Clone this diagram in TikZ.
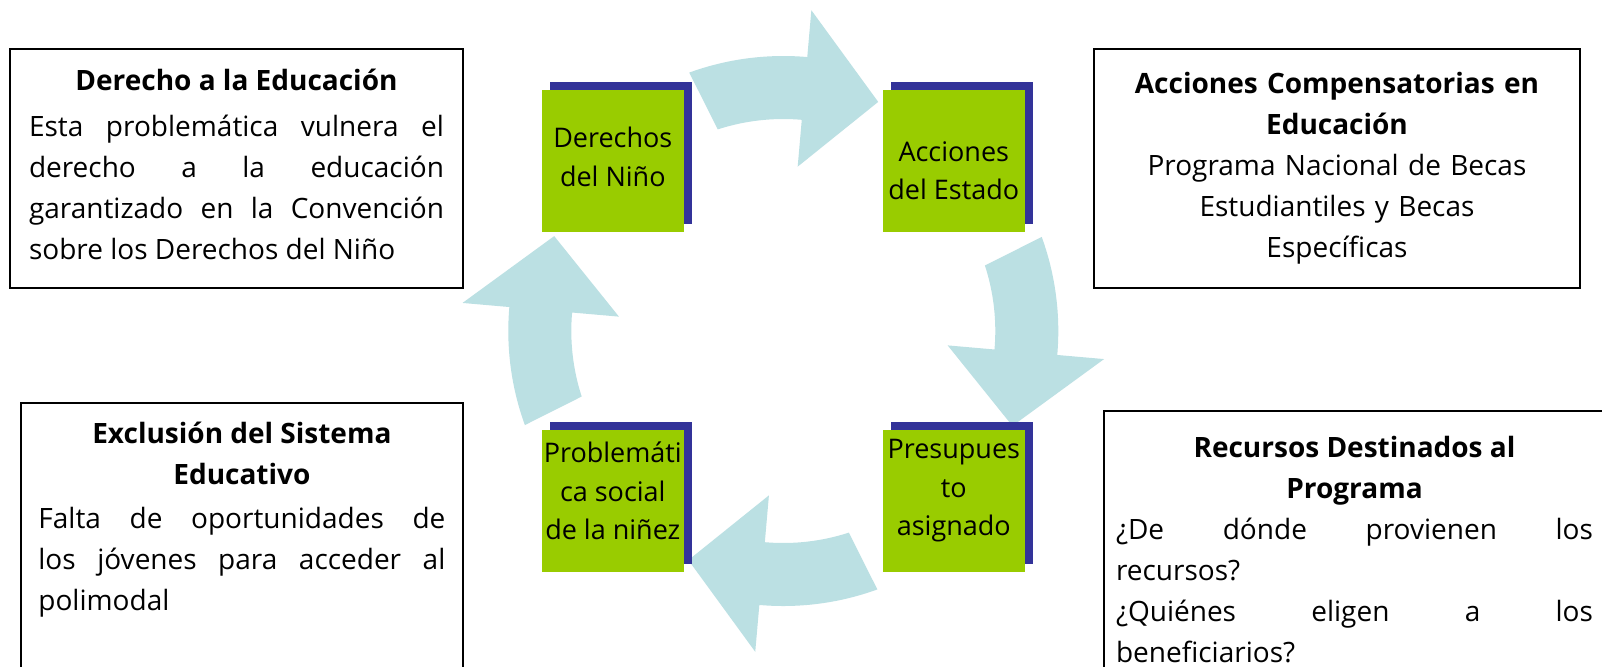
\documentclass[tikz,border=0pt]{standalone}
\usepackage{fontspec}
\setmainfont{Open Sans}
\usetikzlibrary{shadows}

\definecolor{cyclecyan}{RGB}{187,224,227}
\definecolor{boxgreen}{RGB}{153,204,0}
\definecolor{boxblue}{RGB}{51,51,153}

\tikzset{
	textbox/.style={draw=black, line width=1pt, inner xsep=9.5pt, font=\fontsize{14}{20.5}\selectfont},
	stepbox/.style={fill=boxgreen, minimum size=71pt, inner sep=0pt,
		drop shadow={shadow xshift=4pt, shadow yshift=4pt, fill=boxblue, opacity=1}},
	steptext/.style={align=center, inner sep=0pt, font=\fontsize{13.5}{19.25}\selectfont},
}

\begin{document}
\begin{tikzpicture}[x=0.5pt, y=-0.5pt]
	\useasboundingbox[fill=white] (0,0) rectangle (1602,666);

	% the four curved arrows of the cycle
	\begin{scope}[shift={(783.3,331)}]
	\foreach \c in {-90,0,90,180}
		\fill[cyclecyan] ({\c-20}:275) arc[start angle=\c-20, end angle=\c+5, radius=275]
			-- ({\c+5}:322) -- ({\c+22.5}:248) -- ({\c+5}:165)
			-- ({\c+5}:212) arc[start angle=\c+5, end angle=\c-18, radius=212] -- cycle;
	\end{scope}

	% steps
	\node[stepbox] (ninio) at (612.8,160.5) {};
	\node[stepbox] (estado) at (953.8,160.5) {};
	\node[stepbox] (presupuesto) at (953.8,500.8) {};
	\node[stepbox] (problematica) at (612.8,500.8) {};

	\node[steptext, yshift=1.75pt] (ninio-txt) at (ninio) {Derechos\\del Niño};
	\node[steptext, yshift=-5pt] (estado-txt) at (estado) {Acciones\\del Estado};
	\node[steptext, yshift=5pt] (presupuesto-txt) at (presupuesto) {Presupues\\to\\asignado};
	\node[steptext, yshift=5pt] (problematica-txt) at (problematica) {Problemáti\\ca social\\de la niñez};

	% explanation boxes
	\node[textbox, text width=207.5pt, align=justify, minimum height=119.5pt, anchor=north west] (derecho) at (9,48)
		{{\centering\bfseries Derecho a la Educación\par}\vspace{2.5pt}Esta problemática vulnera el\linebreak
		derecho a la educación\linebreak garantizado en la Convención\linebreak sobre los Derechos del Niño
		\par\nointerlineskip\vbox to 4.5pt{}};
	\node[textbox, text width=224pt, align=center, minimum height=119.5pt, anchor=north west] (compensatorias) at (1093,48)
		{\textbf{Acciones Compensatorias en}\\\textbf{Educación}\\Programa Nacional de Becas\\Estudiantiles y Becas\\Específicas};
	\node[textbox, text width=203.5pt, inner xsep=8.7pt, inner ysep=9.5pt, text depth=130pt, align=justify, anchor=north west] (exclusion) at (20,401.7)
		{{\centering\bfseries Exclusión del Sistema\\Educativo\par}\vspace{1.5pt}Falta de oportunidades de\linebreak
		los jóvenes para acceder al\linebreak polimodal};
	\node[textbox, text width=238.5pt, inner xsep=6pt, inner ysep=12.5pt, text depth=130pt, align=justify, anchor=north west] (recursos) at (1103,410)
		{{\centering\bfseries Recursos Destinados al\\Programa\par}¿De dónde provienen los\linebreak
		recursos?\par ¿Quiénes eligen a los\linebreak beneficiarios?};
\end{tikzpicture}
\end{document}
